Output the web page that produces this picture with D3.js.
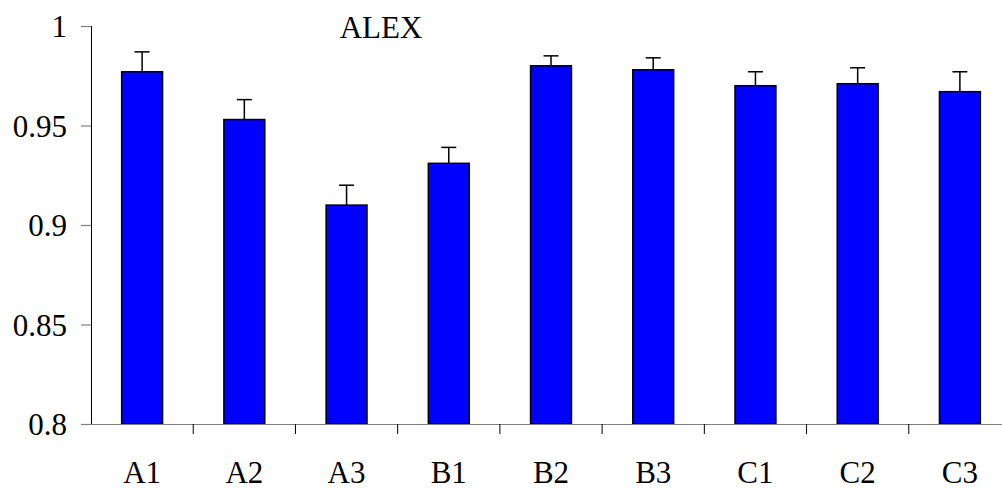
<!DOCTYPE html>
<html>
<head>
<meta charset="utf-8">
<script src="https://cdn.jsdelivr.net/npm/d3@7"></script>
<style>
  html, body { margin: 0; padding: 0; background: #fff; }
  svg { display: block; }
</style>
</head>
<body>
<svg id="chart" width="1002" height="489"></svg>
<script>
const categories = ["A1", "A2", "A3", "B1", "B2", "B3", "C1", "C2", "C3"];
const values = [0.977, 0.953, 0.910, 0.931, 0.980, 0.978, 0.970, 0.971, 0.967];
const errors = [0.010, 0.010, 0.010, 0.008, 0.005, 0.006, 0.007, 0.008, 0.010];
const yTicks = [0.8, 0.85, 0.9, 0.95, 1];
const yTickLabels = ["0.8", "0.85", "0.9", "0.95", "1"];
const title = "ALEX";

const FONT = "Liberation Serif";
const svg = d3.select("#chart");
const mLeft = 91, mRight = 1011, mTop = 26, mBottom = 424;

const x = d3.scaleBand().domain(categories).range([mLeft, mRight]).paddingInner(0.6).paddingOuter(0.3);
const band = d3.scaleBand().domain(categories).range([mLeft, mRight]);
const y = d3.scaleLinear().domain([0.8, 1]).range([mBottom, mTop]);

// bars
svg.append("g").selectAll("rect").data(categories).join("rect")
  .attr("x", d => x(d))
  .attr("y", (d, i) => y(values[i]))
  .attr("width", x.bandwidth())
  .attr("height", (d, i) => y(0.8) - y(values[i]))
  .attr("fill", "#0000ff")
  .attr("stroke", "#000")
  .attr("stroke-width", 1.5);

// error bars (upper)
const eg = svg.append("g").attr("stroke", "#000").attr("stroke-width", 1.5);
categories.forEach((c, i) => {
  const cx = x(c) + x.bandwidth() / 2;
  eg.append("line").attr("x1", cx).attr("x2", cx)
    .attr("y1", y(values[i])).attr("y2", y(values[i] + errors[i]));
  eg.append("line").attr("x1", cx - 7.5).attr("x2", cx + 7.5)
    .attr("y1", y(values[i] + errors[i])).attr("y2", y(values[i] + errors[i]));
});

// y axis
const yAxis = d3.axisLeft(y).tickValues(yTicks).tickFormat((d, i) => yTickLabels[i]).tickSize(10).tickPadding(14);
const ya = svg.append("g").attr("transform", `translate(${mLeft},0)`).call(yAxis)
  .attr("font-family", FONT).attr("font-size", 31);
ya.select(".domain").attr("stroke", "#000").attr("stroke-width", 1).attr("d", `M0.5,${mTop}V${mBottom}`);
ya.selectAll(".tick line").attr("stroke", "#808080").attr("stroke-width", 1.2);
ya.selectAll(".tick text").style("font-family", FONT).style("font-size", "31px").attr("fill", "#000").attr("dy", "0.34em");

// x axis
const xa = svg.append("g").attr("transform", `translate(0,${mBottom})`);
xa.append("line").attr("x1", mLeft).attr("x2", mRight).attr("y1", 0.5).attr("y2", 0.5)
  .attr("stroke", "#808080").attr("stroke-width", 1.2);
const boundaries = categories.map(c => band(c)).concat([band(categories[categories.length - 1]) + band.bandwidth()]);
xa.selectAll("line.tk").data(boundaries.slice(1)).join("line").attr("class", "tk")
  .attr("x1", d => d).attr("x2", d => d).attr("y1", 0).attr("y2", 10)
  .attr("stroke", "#000").attr("stroke-width", 1);
xa.selectAll("text").data(categories).join("text")
  .attr("x", d => band(d) + band.bandwidth() / 2)
  .attr("y", 59)
  .attr("text-anchor", "middle")
  .style("font-family", FONT)
  .style("font-size", "31px")
  .attr("fill", "#000")
  .text(d => d);

// title
svg.append("text").attr("x", 381).attr("y", 38).attr("text-anchor", "middle")
  .style("font-family", FONT).style("font-size", "31px").attr("fill", "#000").text(title);
</script>
</body>
</html>
